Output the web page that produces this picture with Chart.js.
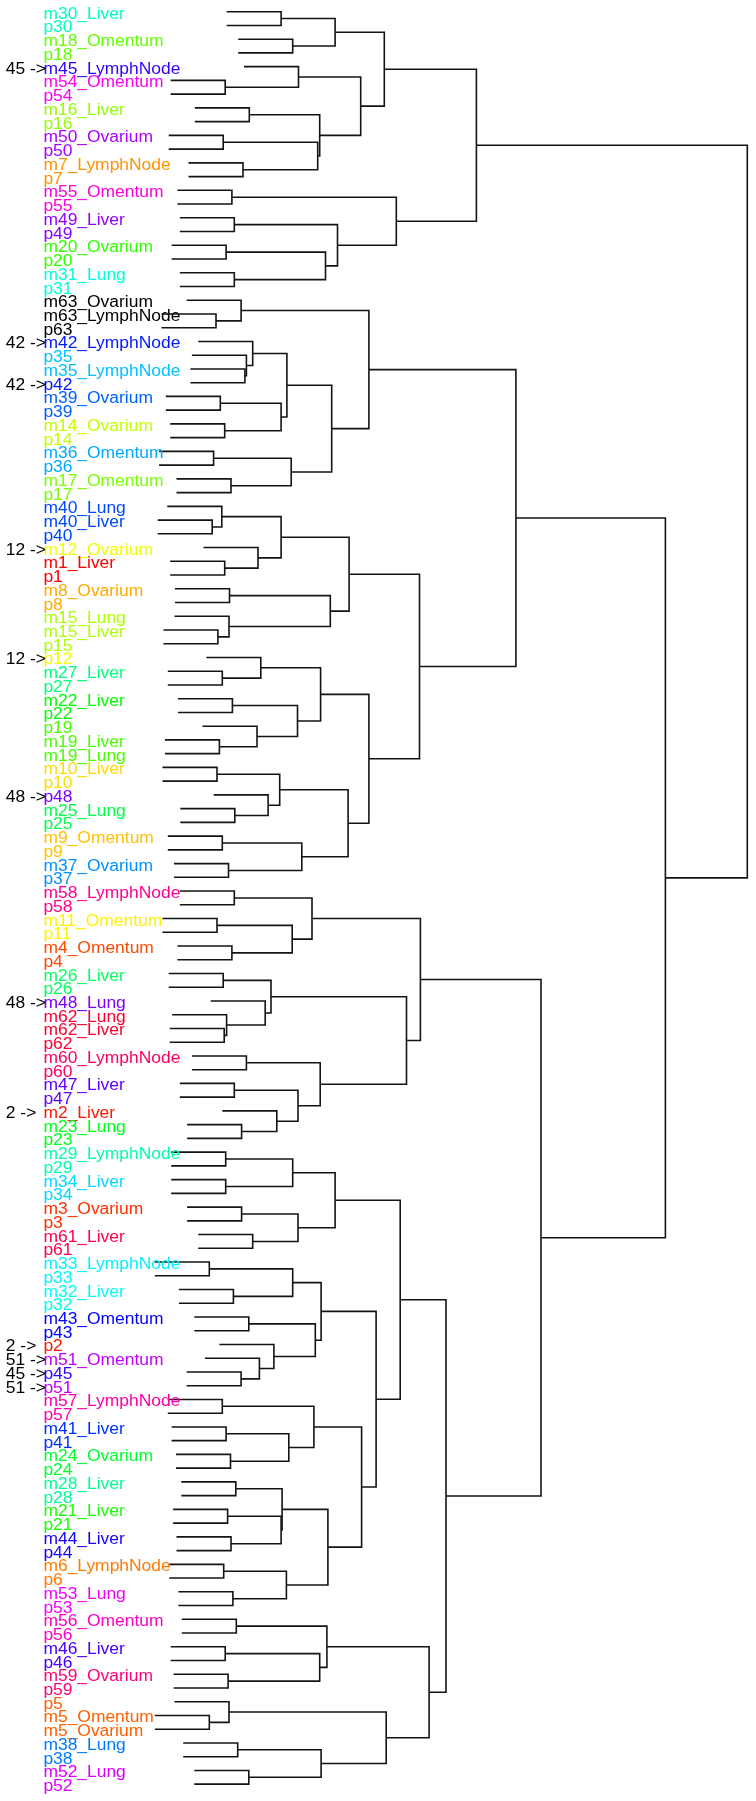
<!DOCTYPE html>
<html><head><meta charset="utf-8">
<script src="https://cdn.jsdelivr.net/npm/chart.js@4.4.1/dist/chart.umd.min.js"></script>
<style>html,body{margin:0;padding:0;background:#fff;overflow:hidden}canvas{display:block}</style>
</head><body>
<canvas id="c" width="756" height="1801"></canvas>
<script>
// Leaf labels, in top-to-bottom order
const leafLabels = [
"m30_Liver","p30","m18_Omentum","p18","m45_LymphNode","m54_Omentum","p54","m16_Liver","p16","m50_Ovarium",
"p50","m7_LymphNode","p7","m55_Omentum","p55","m49_Liver","p49","m20_Ovarium","p20","m31_Lung",
"p31","m63_Ovarium","m63_LymphNode","p63","m42_LymphNode","p35","m35_LymphNode","p42","m39_Ovarium","p39",
"m14_Ovarium","p14","m36_Omentum","p36","m17_Omentum","p17","m40_Lung","m40_Liver","p40","m12_Ovarium",
"m1_Liver","p1","m8_Ovarium","p8","m15_Lung","m15_Liver","p15","p12","m27_Liver","p27",
"m22_Liver","p22","p19","m19_Liver","m19_Lung","m10_Liver","p10","p48","m25_Lung","p25",
"m9_Omentum","p9","m37_Ovarium","p37","m58_LymphNode","p58","m11_Omentum","p11","m4_Omentum","p4",
"m26_Liver","p26","m48_Lung","m62_Lung","m62_Liver","p62","m60_LymphNode","p60","m47_Liver","p47",
"m2_Liver","m23_Lung","p23","m29_LymphNode","p29","m34_Liver","p34","m3_Ovarium","p3","m61_Liver",
"p61","m33_LymphNode","p33","m32_Liver","p32","m43_Omentum","p43","p2","m51_Omentum","p45",
"p51","m57_LymphNode","p57","m41_Liver","p41","m24_Ovarium","p24","m28_Liver","p28","m21_Liver",
"p21","m44_Liver","p44","m6_LymphNode","p6","m53_Lung","p53","m56_Omentum","p56","m46_Liver",
"p46","m59_Ovarium","p59","p5","m5_Omentum","m5_Ovarium","m38_Lung","p38","m52_Lung","p52"
];

// Marked leaves (black prefix text)
const markLeaves = [4, 24, 27, 39, 47, 57, 72, 80, 97, 98, 99, 100];
const markTexts = ["45 ->","42 ->","42 ->","12 ->","12 ->","48 ->","48 ->","2 ->","2 ->","51 ->","45 ->","51 ->"];

// Merge table (R hclust style): negative = leaf number (1-based), positive = earlier merge row (1-based)
const mergeA = [
 -1,-3,1,-6,-5,-8,-10,-12,7,6, 5,3,-14,-16,-18,-20,15,14,13,12,
 -23,-22,-27,-26,-25,-29,-31,26,25,-33, -35,30,29,22,-38,-37,-41,-40,36,-43,
 -46,-45,40,39,-49,-48,-51,-54,-53,47, 46,-56,-59,-58,52,-61,-63,56,55,51,
 44,34,-65,-67,-69,64,63,-71,-75,-74, -73,68,-77,-79,-82,-81,74,73,72,67,
 -84,-86,81,-88,-90,84,83,-92,-94,88, -96,-100,-99,-98,91,90,-102,-104,-106,98,
 97,-108,-110,-112,103,102,-114,-116,107,106, 101,96,87,-118,-120,-122,115,114,-125,-124,
 -127,-129,121,120,118,113,80,62,20
];
const mergeB = [
 -2,-4,2,-7,4,-9,-11,-13,8,9, 10,11,-15,-17,-19,-21,16,17,18,19,
 -24,21,-28,23,24,-30,-32,27,28,-34, -36,31,32,33,-39,35,-42,37,38,-44,
 -47,41,42,43,-50,45,-52,-55,48,49, 50,-57,-60,53,54,-62,-64,57,58,59,
 60,61,-66,-68,-70,65,66,-72,-76,69, 70,71,-78,-80,-83,75,76,77,78,79,
 -85,-87,82,-89,-91,85,86,-93,-95,89, -97,-101,92,93,94,95,-103,-105,-107,99,
 100,-109,-111,-113,104,105,-115,-117,108,109, 110,111,112,-119,-121,-123,116,117,-126,119,
 -128,-130,122,123,124,125,126,127,128
];
const mergeH = [
 1.311,1.427,1.851,0.752,1.485,0.993,0.732,0.930,1.677,1.697, 2.107,2.343,0.819,0.843,0.761,0.843,1.755,1.875,2.463,3.264,
 0.660,0.911,0.949,0.964,1.027,0.703,0.747,1.311,1.369,0.636, 0.810,1.412,1.817,2.189,0.622,0.718,0.747,1.080,1.311,0.795,
 0.679,0.790,1.803,1.991,0.723,1.108,0.824,0.694,1.070,1.475, 1.706,0.670,0.848,1.181,1.297,0.723,0.785,1.518,1.981,2.189,
 2.695,3.659,0.843,0.670,0.819,1.422,1.620,0.732,0.742,0.766, 1.152,1.210,0.964,0.843,0.916,1.268,1.480,1.702,2.565,2.704,
 0.757,0.757,1.427,0.916,1.027,1.480,1.851,0.593,0.834,1.427, 0.988,0.911,1.094,1.239,1.653,1.711,0.723,0.761,0.805,1.388,
 1.639,0.858,0.776,0.810,1.311,1.321,0.737,0.829,1.364,1.779, 2.116,2.261,2.502,0.863,0.752,0.781,1.697,1.769,0.593,0.790,
 0.877,0.988,1.711,2.362,2.791,2.960,3.910,5.154,5.973
];
const HANG = 0.545;

// ---- layout from the merge table ----
const nodeY = new Array(mergeA.length);
function posOf(c){ return c < 0 ? (-c - 1) : nodeY[c - 1]; }
function hOf(c, ph){ return c < 0 ? ph - HANG : mergeH[c - 1]; }
const datasets = [];
for (let k = 0; k < mergeA.length; k++) {
  const a = mergeA[k], b = mergeB[k], h = mergeH[k];
  const ya = posOf(a), yb = posOf(b);
  nodeY[k] = (ya + yb) / 2;
  datasets.push({
    data: [{x: hOf(a, h), y: ya}, {x: h, y: ya}, {x: h, y: yb}, {x: hOf(b, h), y: yb}],
    borderColor: '#141414', borderWidth: 1.6, pointRadius: 0, pointHoverRadius: 0,
    tension: 0, fill: false, borderJoinStyle: 'miter'
  });
}

function patientColor(label){
  const n = parseInt(label.match(/\d+/)[0], 10);
  if (n === 63) return '#000000';
  const hue = (n - 1) / 63 * 360;
  return 'hsl(' + hue.toFixed(1) + ',100%,50%)';
}

const SX = 1.09;
const labelPlugin = {
  id: 'leafLabels',
  afterDatasetsDraw(chart) {
    const ys = chart.scales.y, ctx = chart.ctx;
    ctx.save();
    ctx.font = '16px "Liberation Sans", Arial, sans-serif';
    ctx.textBaseline = 'alphabetic';
    ctx.textAlign = 'left';
    const draw = (t, x, y, col) => {
      ctx.save(); ctx.translate(x, y); ctx.scale(SX, 1);
      ctx.fillStyle = col; ctx.fillText(t, 0, 0); ctx.restore();
    };
    leafLabels.forEach((lab, i) => {
      draw(lab, 43.4, ys.getPixelForValue(i) + 7, patientColor(lab));
    });
    markLeaves.forEach((li, j) => {
      draw(markTexts[j], 5.8, ys.getPixelForValue(li) + 7, '#000000');
    });
    ctx.restore();
  }
};

new Chart(document.getElementById('c').getContext('2d'), {
  type: 'line',
  data: { datasets },
  options: {
    responsive: false, animation: false, events: [],
    layout: { padding: 0, autoPadding: false },
    plugins: { legend: { display: false }, tooltip: { enabled: false }, title: { display: false } },
    scales: {
      x: { type: 'linear', min: -1.5, max: 6.06, display: false },
      y: { type: 'linear', reverse: true, min: -0.8515, max: 130.225, display: false }
    }
  },
  plugins: [labelPlugin]
});
</script>
</body></html>
